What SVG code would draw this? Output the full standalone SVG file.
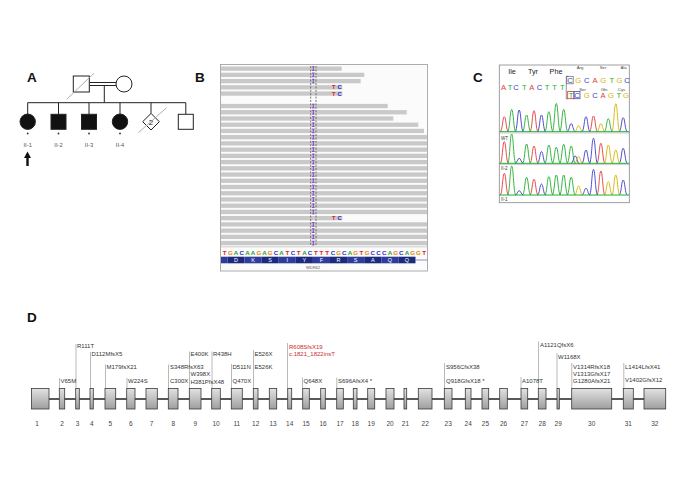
<svg xmlns="http://www.w3.org/2000/svg" xmlns:xlink="http://www.w3.org/1999/xlink" width="685" height="498" viewBox="0 0 685 498">
<defs>
<style>
text{font-family:"Liberation Sans",Arial,Helvetica,sans-serif}
.lbl{font-size:13.5px;font-weight:bold;fill:#111}
.ped{stroke:#222;stroke-width:1;fill:#fff}
.pedf{stroke:#222;stroke-width:1;fill:#111}
.pl{stroke:#222;stroke-width:1;fill:none}
.dl{stroke:#9a9a9a;stroke-width:0.8}
.pid{font-size:5.8px;fill:#555;text-anchor:middle}
.rd{fill:#c9c9c9}
.dash{stroke:#555;stroke-width:0.8;stroke-dasharray:2 1.4}
.sA{fill:#2e9e2e}.sC{fill:#2b2bd0}.sG{fill:#e58a00}.sT{fill:#e02222}
.seq{font-size:6.2px;font-weight:bold;text-anchor:middle}
.aa{font-size:5.5px;fill:#fff;text-anchor:middle}
.tc{font-size:5.8px;font-weight:bold}
.ca{fill:#e23b3b}.cg{fill:#1fae2c}.cb{fill:#3b3bc8}.cy{fill:#d6b300}
.cs{font-size:7.6px;text-anchor:middle}
.sm{font-size:4.3px;fill:#444;text-anchor:middle}
.aan{font-size:7.2px;fill:#222;text-anchor:middle}
.pk{fill:none;stroke-width:0.9}
.pr{stroke:#e23b3b}.pg{stroke:#1fae2c}.pb{stroke:#3b3bc8}.py{stroke:#d6b300}
.bl{stroke:#1fae2c;stroke-width:1}
.ex{fill:url(#eg);stroke:#3a3a3a;stroke-width:0.8}
.en{font-size:6.5px;fill:#444;text-anchor:middle}
.mut{font-size:6px;fill:#333}
.mr{fill:#cc2b2b}
.ml{stroke:#8a8a8a;stroke-width:0.6}
</style>
<linearGradient id="eg" x1="0" y1="0" x2="0" y2="1">
<stop offset="0" stop-color="#e2e2e2"/>
<stop offset="1" stop-color="#9e9e9e"/>
</linearGradient>
<path id="ins" d="M312.1 0.3H314.5M313.3 0.3V4M312.1 4H314.5" stroke="#7a3ccc" stroke-width="0.9" fill="none"/>
</defs>
<rect width="685" height="498" fill="#fff"/>

<!-- Panel labels -->
<text class="lbl" x="27" y="82">A</text>
<text class="lbl" x="195" y="82">B</text>
<text class="lbl" x="473" y="82">C</text>
<text class="lbl" x="27" y="322">D</text>

<!-- Panel A: pedigree -->
<g id="pedigree-lines">
<line class="pl" x1="89.3" y1="82.5" x2="116" y2="82.5"/>
<line class="pl" x1="89.3" y1="85.5" x2="116" y2="85.5"/>
<line class="pl" x1="104.3" y1="85.5" x2="104.3" y2="102.7"/>
<line class="pl" x1="27.7" y1="102.7" x2="185.8" y2="102.7"/>
<line class="pl" x1="27.7" y1="102.7" x2="27.7" y2="114"/>
<line class="pl" x1="58.5" y1="102.7" x2="58.5" y2="114.3"/>
<line class="pl" x1="89" y1="102.7" x2="89" y2="114.3"/>
<line class="pl" x1="120" y1="102.7" x2="120" y2="114"/>
<line class="pl" x1="151" y1="102.7" x2="151" y2="113.4"/>
<line class="pl" x1="185.8" y1="102.7" x2="185.8" y2="114.3"/>
</g>
<g id="I-1"><rect class="ped" x="73.3" y="76" width="16" height="16"/><line class="dl" x1="66.7" y1="99.3" x2="94" y2="73.3"/></g>
<g id="I-2"><circle class="ped" cx="124" cy="84" r="8"/></g>
<g id="II-1"><circle class="pedf" cx="27.7" cy="121.7" r="7.7"/><circle cx="27.7" cy="133.5" r="0.9" fill="#333"/><text class="pid" x="27.7" y="146.5">II-1</text>
<polygon points="27.5,151.5 31,158 28.7,158 28.7,166 26.3,166 26.3,158 24,158" fill="#111"/></g>
<g id="II-2"><rect class="pedf" x="51" y="114.3" width="15" height="15"/><circle cx="58.5" cy="133.5" r="0.9" fill="#333"/><text class="pid" x="58.5" y="146.5">II-2</text></g>
<g id="II-3"><rect class="pedf" x="81.5" y="114.3" width="15" height="15"/><circle cx="89" cy="133.5" r="0.9" fill="#333"/><text class="pid" x="89" y="146.5">II-3</text></g>
<g id="II-4"><circle class="pedf" cx="120" cy="121.7" r="7.7"/><circle cx="120" cy="133.5" r="0.9" fill="#333"/><text class="pid" x="120" y="146.5">II-4</text></g>
<g id="II-5"><polygon class="ped" points="151,113.4 159.3,121.7 151,130 142.7,121.7"/><text x="151" y="124.6" font-size="8" text-anchor="middle" fill="#222">2</text><line class="dl" x1="138.3" y1="132.7" x2="166.7" y2="107.7"/></g>
<g id="II-6"><rect class="ped" x="178.3" y="114.3" width="15" height="15"/></g>

<!-- Panel B: IGV -->
<g id="igv">
<rect x="220.5" y="64.5" width="207" height="206.5" fill="#fbfbfb" stroke="#9a9a9a" stroke-width="0.8"/>
<g id="reads">
<rect class="rd" x="221" y="66.5" width="120.7" height="4.3"/>
<rect class="rd" x="221" y="72.73" width="143.3" height="4.3"/>
<rect class="rd" x="221" y="78.96" width="139.7" height="4.3"/>
<rect class="rd" x="221" y="85.19" width="121.3" height="4.3"/>
<rect class="rd" x="221" y="91.42" width="121.3" height="4.3"/>
<rect class="rd" x="221" y="103.88" width="166.7" height="4.3"/>
<rect class="rd" x="221" y="110.11" width="185.7" height="4.3"/>
<rect class="rd" x="221" y="116.34" width="172.3" height="4.3"/>
<rect class="rd" x="221" y="122.57" width="197.3" height="4.3"/>
<rect class="rd" x="221" y="128.8" width="203" height="4.3"/>
<rect class="rd" x="221" y="135.03" width="206" height="4.3"/>
<rect class="rd" x="221" y="141.26" width="206" height="4.3"/>
<rect class="rd" x="221" y="147.49" width="206" height="4.3"/>
<rect class="rd" x="221" y="153.72" width="206" height="4.3"/>
<rect class="rd" x="221" y="159.95" width="206" height="4.3"/>
<rect class="rd" x="221" y="166.18" width="206" height="4.3"/>
<rect class="rd" x="221" y="172.41" width="206" height="4.3"/>
<rect class="rd" x="221" y="178.64" width="206" height="4.3"/>
<rect class="rd" x="221" y="184.87" width="206" height="4.3"/>
<rect class="rd" x="221" y="191.1" width="206" height="4.3"/>
<rect class="rd" x="221" y="197.33" width="206" height="4.3"/>
<rect class="rd" x="221" y="203.56" width="206" height="4.3"/>
<rect class="rd" x="221" y="209.79" width="206" height="4.3"/>
<rect class="rd" x="221" y="216.02" width="121.3" height="4.3"/>
<rect class="rd" x="221" y="222.25" width="206" height="4.3"/>
<rect class="rd" x="221" y="228.48" width="206" height="4.3"/>
<rect class="rd" x="221" y="234.71" width="206" height="4.3"/>
<rect class="rd" x="221" y="240.94" width="206" height="4.3"/>
</g>
<line class="dash" x1="310.7" y1="66" x2="310.7" y2="246"/>
<line class="dash" x1="316" y1="66" x2="316" y2="246"/>
<g id="insertions">
<use xlink:href="#ins" y="66.5"/><use xlink:href="#ins" y="72.73"/><use xlink:href="#ins" y="78.96"/>
<use xlink:href="#ins" y="103.88"/><use xlink:href="#ins" y="110.11"/><use xlink:href="#ins" y="116.34"/><use xlink:href="#ins" y="122.57"/><use xlink:href="#ins" y="128.8"/>
<use xlink:href="#ins" y="135.03"/><use xlink:href="#ins" y="141.26"/><use xlink:href="#ins" y="147.49"/><use xlink:href="#ins" y="153.72"/><use xlink:href="#ins" y="159.95"/>
<use xlink:href="#ins" y="166.18"/><use xlink:href="#ins" y="172.41"/><use xlink:href="#ins" y="178.64"/><use xlink:href="#ins" y="184.87"/><use xlink:href="#ins" y="191.1"/>
<use xlink:href="#ins" y="197.33"/><use xlink:href="#ins" y="203.56"/><use xlink:href="#ins" y="209.79"/>
<use xlink:href="#ins" y="222.25"/><use xlink:href="#ins" y="228.48"/><use xlink:href="#ins" y="234.71"/><use xlink:href="#ins" y="240.94"/>
</g>
<text class="tc" y="89.4"><tspan x="332" class="sT">T</tspan><tspan x="337.4" class="sC">C</tspan></text>
<text class="tc" y="95.6"><tspan x="332" class="sT">T</tspan><tspan x="337.4" class="sC">C</tspan></text>
<text class="tc" y="220.2"><tspan x="332" class="sT">T</tspan><tspan x="337.4" class="sC">C</tspan></text>
<line x1="220.5" y1="246.8" x2="427.5" y2="246.8" stroke="#aaa" stroke-width="0.6"/>
<text class="seq" y="254.6"><tspan x="224.6" class="sT">T</tspan><tspan x="230.3" class="sG">G</tspan><tspan x="236" class="sA">A</tspan><tspan x="241.7" class="sC">C</tspan><tspan x="247.4" class="sA">A</tspan><tspan x="253.1" class="sA">A</tspan><tspan x="258.8" class="sG">G</tspan><tspan x="264.5" class="sA">A</tspan><tspan x="270.2" class="sG">G</tspan><tspan x="275.9" class="sC">C</tspan><tspan x="281.6" class="sA">A</tspan><tspan x="287.3" class="sT">T</tspan><tspan x="293" class="sC">C</tspan><tspan x="298.7" class="sT">T</tspan><tspan x="304.4" class="sA">A</tspan><tspan x="310.1" class="sC">C</tspan><tspan x="315.8" class="sT">T</tspan><tspan x="321.5" class="sT">T</tspan><tspan x="327.2" class="sT">T</tspan><tspan x="332.9" class="sC">C</tspan><tspan x="338.6" class="sG">G</tspan><tspan x="344.3" class="sC">C</tspan><tspan x="350" class="sA">A</tspan><tspan x="355.7" class="sG">G</tspan><tspan x="361.4" class="sT">T</tspan><tspan x="367.1" class="sG">G</tspan><tspan x="372.8" class="sC">C</tspan><tspan x="378.5" class="sC">C</tspan><tspan x="384.2" class="sC">C</tspan><tspan x="389.9" class="sA">A</tspan><tspan x="395.6" class="sG">G</tspan><tspan x="401.3" class="sC">C</tspan><tspan x="407" class="sA">A</tspan><tspan x="412.7" class="sG">G</tspan><tspan x="418.4" class="sG">G</tspan><tspan x="424.1" class="sT">T</tspan></text>
<g id="aa-bar">
<rect x="221" y="256.7" width="6.4" height="6.6" fill="#2e3d9c"/>
<rect x="227.4" y="256.7" width="17.1" height="6.6" fill="#1c2a7e"/>
<rect x="244.5" y="256.7" width="17.1" height="6.6" fill="#2e3d9c"/>
<rect x="261.6" y="256.7" width="17.1" height="6.6" fill="#1c2a7e"/>
<rect x="278.7" y="256.7" width="17.1" height="6.6" fill="#2e3d9c"/>
<rect x="295.8" y="256.7" width="17.1" height="6.6" fill="#1c2a7e"/>
<rect x="312.9" y="256.7" width="17.1" height="6.6" fill="#2e3d9c"/>
<rect x="330" y="256.7" width="17.1" height="6.6" fill="#1c2a7e"/>
<rect x="347.1" y="256.7" width="17.1" height="6.6" fill="#2e3d9c"/>
<rect x="364.2" y="256.7" width="17.1" height="6.6" fill="#1c2a7e"/>
<rect x="381.3" y="256.7" width="17.1" height="6.6" fill="#2e3d9c"/>
<rect x="398.4" y="256.7" width="17.1" height="6.6" fill="#1c2a7e"/>
<line x1="415.5" y1="260" x2="427.5" y2="260" stroke="#5a66b8" stroke-width="0.7"/>
<text class="aa" y="262"><tspan x="236">D</tspan><tspan x="253.1">K</tspan><tspan x="270.2">S</tspan><tspan x="287.3">I</tspan><tspan x="304.4">Y</tspan><tspan x="321.5">F</tspan><tspan x="338.6">R</tspan><tspan x="355.7">S</tspan><tspan x="372.8">A</tspan><tspan x="389.9">Q</tspan><tspan x="407">Q</tspan></text>
</g>
<text x="313" y="268.6" font-size="4" fill="#555" text-anchor="middle">WDR62</text>
</g>

<!-- Panel C: chromatogram -->
<g id="chromatogram">
<rect x="499.3" y="65" width="130" height="137.7" fill="#fff" stroke="#888" stroke-width="0.8"/>
<text class="aan" x="512" y="74">Ile</text>
<text class="aan" x="533" y="74">Tyr</text>
<text class="aan" x="556" y="74">Phe</text>
<text class="cs" y="90"><tspan x="503.6" class="ca">A</tspan><tspan x="510" class="cg">T</tspan><tspan x="516" class="cb">C</tspan><tspan x="524.2" class="cg">T</tspan><tspan x="531.8" class="ca">A</tspan><tspan x="539.4" class="cb">C</tspan><tspan x="547" class="cg">T</tspan><tspan x="554.6" class="cg">T</tspan><tspan x="562.2" class="cg">T</tspan></text>
<text class="sm" y="69.2"><tspan x="580">Arg</tspan><tspan x="603">Ser</tspan><tspan x="623.5">Ala</tspan></text>
<text class="sm" y="90.5"><tspan x="582.5">Ser</tspan><tspan x="604">Gln</tspan><tspan x="621.5">Cys</tspan></text>
<path d="M568.5 76.3H566.3V98.8H568" fill="none" stroke="#666" stroke-width="0.7"/>
<rect x="566.8" y="76.3" width="6.4" height="7.5" fill="none" stroke="#666" stroke-width="0.7"/>
<rect x="567.7" y="91.5" width="6.3" height="7.2" fill="none" stroke="#d33" stroke-width="0.8"/>
<rect x="574" y="91.5" width="6" height="7.2" fill="none" stroke="#4455aa" stroke-width="0.8"/>
<text class="cs" y="83"><tspan x="570" class="cb">C</tspan><tspan x="578.3" class="cy">G</tspan><tspan x="586.7" class="cb">C</tspan><tspan x="595" class="ca">A</tspan><tspan x="603.3" class="cy">G</tspan><tspan x="611.7" class="cg">T</tspan><tspan x="619.5" class="cy">G</tspan><tspan x="627" class="cb">C</tspan></text>
<text class="cs" y="97.7"><tspan x="571" class="cg">T</tspan><tspan x="577" class="cb">C</tspan><tspan x="586.7" class="cy">G</tspan><tspan x="595" class="cb">C</tspan><tspan x="603" class="ca">A</tspan><tspan x="611" class="cy">G</tspan><tspan x="618.7" class="cg">T</tspan><tspan x="626" class="cy">G</tspan></text>
<!-- trace 1 -->
<path class="pk pr" d="M500.1 131.7C502.5 131.7 502.5 116.7 504.3 116.7S506.1 131.7 508.5 131.7M529.8 131.7C532.2 131.7 532.2 110.7 534 110.7S535.8 131.7 538.2 131.7M589.3 131.7C591.7 131.7 591.7 116 593.5 116S595.3 131.7 597.7 131.7"/>
<path class="pk pg" d="M507.5 131.7C509.9 131.7 509.9 109.4 511.7 109.4S513.5 131.7 515.9 131.7M522.4 131.7C524.8 131.7 524.8 115 526.6 115S528.4 131.7 530.8 131.7M544.7 131.7C547.1 131.7 547.1 111.7 548.9 111.7S550.7 131.7 553.1 131.7M552.1 131.7C554.5 131.7 554.5 103.4 556.3 103.4S558.1 131.7 560.5 131.7M559.5 131.7C561.9 131.7 561.9 109.4 563.7 109.4S565.5 131.7 567.9 131.7M604.1 131.7C606.5 131.7 606.5 118.7 608.3 118.7S610.1 131.7 612.5 131.7"/>
<path class="pk pb" d="M515 131.7C517.4 131.7 517.4 110 519.2 110S521 131.7 523.4 131.7M537.3 131.7C539.7 131.7 539.7 115 541.5 115S543.3 131.7 545.7 131.7M567 131.7C569.4 131.7 569.4 123.7 571.2 123.7S573 131.7 575.4 131.7M581.8 131.7C584.2 131.7 584.2 116.7 586 116.7S587.8 131.7 590.2 131.7M619 131.7C621.4 131.7 621.4 117.7 623.2 117.7S625 131.7 627.4 131.7"/>
<path class="pk py" d="M574.4 131.7C576.8 131.7 576.8 125.7 578.6 125.7S580.4 131.7 582.8 131.7M596.7 131.7C599.1 131.7 599.1 123.7 600.9 123.7S602.7 131.7 605.1 131.7M611.6 131.7C614 131.7 614 103.7 615.8 103.7S617.6 131.7 620 131.7"/>
<!-- trace 2 -->
<path class="pk pr" d="M500.1 163.3C502.5 163.3 502.5 141.6 504.3 141.6S506.1 163.3 508.5 163.3M529.8 163.3C532.2 163.3 532.2 146 534 146S535.8 163.3 538.2 163.3M596.7 163.3C599.1 163.3 599.1 143.3 600.9 143.3S602.7 163.3 605.1 163.3"/>
<path class="pk pg" d="M507.5 163.3C509.9 163.3 509.9 134 511.7 134S513.5 163.3 515.9 163.3M522.4 163.3C524.8 163.3 524.8 144 526.6 144S528.4 163.3 530.8 163.3M544.7 163.3C547.1 163.3 547.1 145 548.9 145S550.7 163.3 553.1 163.3M552.1 163.3C554.5 163.3 554.5 147.3 556.3 147.3S558.1 163.3 560.5 163.3M559.5 163.3C561.9 163.3 561.9 144.3 563.7 144.3S565.5 163.3 567.9 163.3M567 163.3C569.4 163.3 569.4 146 571.2 146S573 163.3 575.4 163.3"/>
<path class="pk pb" d="M515 163.3C517.4 163.3 517.4 158.3 519.2 158.3S521 163.3 523.4 163.3M537.3 163.3C539.7 163.3 539.7 151.6 541.5 151.6S543.3 163.3 545.7 163.3M571 163.3C573.4 163.3 573.4 156 575.2 156S577 163.3 579.4 163.3M581.8 163.3C584.2 163.3 584.2 150 586 150S587.8 163.3 590.2 163.3M589.3 163.3C591.7 163.3 591.7 138.3 593.5 138.3S595.3 163.3 597.7 163.3M619 163.3C621.4 163.3 621.4 148.3 623.2 148.3S625 163.3 627.4 163.3"/>
<path class="pk py" d="M574.4 163.3C576.8 163.3 576.8 156.6 578.6 156.6S580.4 163.3 582.8 163.3M604.1 163.3C606.5 163.3 606.5 145 608.3 145S610.1 163.3 612.5 163.3M611.6 163.3C614 163.3 614 150 615.8 150S617.6 163.3 620 163.3"/>
<!-- trace 3 -->
<path class="pk pr" d="M500.1 195C502.5 195 502.5 173.3 504.3 173.3S506.1 195 508.5 195M529.8 195C532.2 195 532.2 179.3 534 179.3S535.8 195 538.2 195M596.7 195C599.1 195 599.1 171 600.9 171S602.7 195 605.1 195"/>
<path class="pk pg" d="M507.5 195C509.9 195 509.9 166 511.7 166S513.5 195 515.9 195M522.4 195C524.8 195 524.8 177.3 526.6 177.3S528.4 195 530.8 195M544.7 195C547.1 195 547.1 176.7 548.9 176.7S550.7 195 553.1 195M552.1 195C554.5 195 554.5 175 556.3 175S558.1 195 560.5 195M559.5 195C561.9 195 561.9 175 563.7 175S565.5 195 567.9 195M567 195C569.4 195 569.4 177.3 571.2 177.3S573 195 575.4 195"/>
<path class="pk pb" d="M515 195C517.4 195 517.4 190.7 519.2 190.7S521 195 523.4 195M537.3 195C539.7 195 539.7 184 541.5 184S543.3 195 545.7 195M581.8 195C584.2 195 584.2 188.3 586 188.3S587.8 195 590.2 195M589.3 195C591.7 195 591.7 169.3 593.5 169.3S595.3 195 597.7 195M619 195C621.4 195 621.4 180 623.2 180S625 195 627.4 195"/>
<path class="pk py" d="M574.4 195C576.8 195 576.8 186 578.6 186S580.4 195 582.8 195M604.1 195C606.5 195 606.5 181.7 608.3 181.7S610.1 195 612.5 195M611.6 195C614 195 614 175 615.8 175S617.6 195 620 195"/>
<line class="bl" x1="499.3" y1="131.7" x2="629.3" y2="131.7"/>
<line class="bl" x1="499.3" y1="163.3" x2="629.3" y2="163.3"/>
<line class="bl" x1="499.3" y1="195" x2="629.3" y2="195"/>
<line x1="499.3" y1="133" x2="629.3" y2="133" stroke="#999" stroke-width="0.5"/>
<line x1="499.3" y1="164.6" x2="629.3" y2="164.6" stroke="#999" stroke-width="0.5"/>
<text x="501" y="139.5" font-size="4.5" fill="#333">WT</text>
<text x="501" y="170.3" font-size="4.5" fill="#333">II-2</text>
<text x="501" y="200.8" font-size="4.5" fill="#333">II-1</text>
</g>

<!-- Panel D: gene structure -->
<g id="connectors">
<line x1="40" y1="399" x2="655" y2="399" stroke="#222" stroke-width="1.3"/>
<line class="ml" x1="59.5" y1="378" x2="59.5" y2="388.5"/>
<line class="ml" x1="76" y1="344" x2="76" y2="388.5"/>
<line class="ml" x1="90.5" y1="352" x2="90.5" y2="388.5"/>
<line class="ml" x1="105.5" y1="364.5" x2="105.5" y2="388.5"/>
<line class="ml" x1="127" y1="378" x2="127" y2="388.5"/>
<line class="ml" x1="168.5" y1="364.5" x2="168.5" y2="388.5"/>
<line class="ml" x1="189.5" y1="351.5" x2="189.5" y2="388.5"/>
<line class="ml" x1="212" y1="351.5" x2="212" y2="388.5"/>
<line class="ml" x1="231.5" y1="364" x2="231.5" y2="388.5"/>
<line class="ml" x1="253.5" y1="350" x2="253.5" y2="388.5"/>
<line class="ml" x1="287.5" y1="343" x2="287.5" y2="388.5"/>
<line class="ml" x1="302.5" y1="377.5" x2="302.5" y2="388.5"/>
<line class="ml" x1="336.8" y1="377.5" x2="336.8" y2="388.5"/>
<line class="ml" x1="444.5" y1="363" x2="444.5" y2="388.5"/>
<line class="ml" x1="521" y1="377" x2="521" y2="388.5"/>
<line class="ml" x1="538.5" y1="341.5" x2="538.5" y2="388.5"/>
<line class="ml" x1="557" y1="353" x2="557" y2="388.5"/>
<line class="ml" x1="571.8" y1="363" x2="571.8" y2="388.5"/>
<line class="ml" x1="623.8" y1="363" x2="623.8" y2="388.5"/>
</g>
<g id="exons">
<g id="exon1"><rect class="ex" x="31.5" y="388.5" width="17.5" height="20.5"/><text class="en" x="37" y="425.5">1</text></g>
<g id="exon2"><rect class="ex" x="59.3" y="388.5" width="5.4" height="20.5"/><text class="en" x="62" y="425.5">2</text></g>
<g id="exon3"><rect class="ex" x="75.7" y="388.5" width="3.6" height="20.5"/><text class="en" x="77.5" y="425.5">3</text></g>
<g id="exon4"><rect class="ex" x="90" y="388.5" width="3.3" height="20.5"/><text class="en" x="91.7" y="425.5">4</text></g>
<g id="exon5"><rect class="ex" x="105" y="388.5" width="10.7" height="20.5"/><text class="en" x="110.3" y="425.5">5</text></g>
<g id="exon6"><rect class="ex" x="126.7" y="388.5" width="8.3" height="20.5"/><text class="en" x="130.8" y="425.5">6</text></g>
<g id="exon7"><rect class="ex" x="146" y="388.5" width="11.3" height="20.5"/><text class="en" x="151.6" y="425.5">7</text></g>
<g id="exon8"><rect class="ex" x="168.3" y="388.5" width="9.7" height="20.5"/><text class="en" x="173.2" y="425.5">8</text></g>
<g id="exon9"><rect class="ex" x="189.3" y="388.5" width="11.7" height="20.5"/><text class="en" x="195.2" y="425.5">9</text></g>
<g id="exon10"><rect class="ex" x="211.7" y="388.5" width="8.6" height="20.5"/><text class="en" x="216" y="425.5">10</text></g>
<g id="exon11"><rect class="ex" x="231.3" y="388.5" width="11" height="20.5"/><text class="en" x="236.8" y="425.5">11</text></g>
<g id="exon12"><rect class="ex" x="253.3" y="388.5" width="4.7" height="20.5"/><text class="en" x="255.7" y="425.5">12</text></g>
<g id="exon13"><rect class="ex" x="269.3" y="388.5" width="7.4" height="20.5"/><text class="en" x="273" y="425.5">13</text></g>
<g id="exon14"><rect class="ex" x="287.7" y="388.5" width="4" height="20.5"/><text class="en" x="289.7" y="425.5">14</text></g>
<g id="exon15"><rect class="ex" x="302.7" y="388.5" width="6.6" height="20.5"/><text class="en" x="306" y="425.5">15</text></g>
<g id="exon16"><rect class="ex" x="320.7" y="388.5" width="4.6" height="20.5"/><text class="en" x="323" y="425.5">16</text></g>
<g id="exon17"><rect class="ex" x="336.7" y="388.5" width="6.6" height="20.5"/><text class="en" x="340" y="425.5">17</text></g>
<g id="exon18"><rect class="ex" x="353.3" y="388.5" width="3.7" height="20.5"/><text class="en" x="355.2" y="425.5">18</text></g>
<g id="exon19"><rect class="ex" x="367.7" y="388.5" width="7" height="20.5"/><text class="en" x="371.2" y="425.5">19</text></g>
<g id="exon20"><rect class="ex" x="386" y="388.5" width="8" height="20.5"/><text class="en" x="390" y="425.5">20</text></g>
<g id="exon21"><rect class="ex" x="404" y="388.5" width="2.7" height="20.5"/><text class="en" x="405.4" y="425.5">21</text></g>
<g id="exon22"><rect class="ex" x="418.3" y="388.5" width="13.7" height="20.5"/><text class="en" x="425.2" y="425.5">22</text></g>
<g id="exon23"><rect class="ex" x="444.3" y="388.5" width="7.7" height="20.5"/><text class="en" x="448.2" y="425.5">23</text></g>
<g id="exon24"><rect class="ex" x="465.3" y="388.5" width="5.7" height="20.5"/><text class="en" x="468.2" y="425.5">24</text></g>
<g id="exon25"><rect class="ex" x="482" y="388.5" width="6.7" height="20.5"/><text class="en" x="485.4" y="425.5">25</text></g>
<g id="exon26"><rect class="ex" x="499.7" y="388.5" width="7.6" height="20.5"/><text class="en" x="503.5" y="425.5">26</text></g>
<g id="exon27"><rect class="ex" x="521" y="388.5" width="6.7" height="20.5"/><text class="en" x="524.4" y="425.5">27</text></g>
<g id="exon28"><rect class="ex" x="538.3" y="388.5" width="7.7" height="20.5"/><text class="en" x="542.2" y="425.5">28</text></g>
<g id="exon29"><rect class="ex" x="557" y="388.5" width="2.3" height="20.5"/><text class="en" x="558.2" y="425.5">29</text></g>
<g id="exon30"><rect class="ex" x="571.7" y="388.5" width="40" height="20.5"/><text class="en" x="591.7" y="425.5">30</text></g>
<g id="exon31"><rect class="ex" x="623.3" y="388.5" width="10" height="20.5"/><text class="en" x="628.3" y="425.5">31</text></g>
<g id="exon32"><rect class="ex" x="644" y="388.5" width="21.7" height="20.5"/><text class="en" x="654.8" y="425.5">32</text></g>
</g>
<g id="mutations">
<text class="mut" x="60.5" y="382.5">V65M</text>
<text class="mut" x="77" y="347.5">R111T</text>
<text class="mut" x="91.5" y="355.5">D112MfsX5</text>
<text class="mut" x="106.5" y="369">M179fsX21</text>
<text class="mut" x="128" y="382.5">W224S</text>
<text class="mut" x="170" y="369">S348RfsX63</text>
<text class="mut" x="170" y="382.5">C300X</text>
<text class="mut" x="190.5" y="355.5">E400K</text>
<text class="mut" x="190.5" y="375.5">W398X</text>
<text class="mut" x="190.5" y="384">H381PfsX48</text>
<text class="mut" x="213" y="355.5">R438H</text>
<text class="mut" x="232.5" y="369">D511N</text>
<text class="mut" x="232.5" y="382.5">Q470X</text>
<text class="mut" x="254.5" y="355.5">E526X</text>
<text class="mut" x="254.5" y="369">E526K</text>
<text class="mut mr" x="289" y="348.5">R608SfsX19</text>
<text class="mut mr" x="289" y="356">c.1821_1822insT</text>
<text class="mut" x="303.5" y="382.5">Q648X</text>
<text class="mut" x="338" y="382.5">S696AfsX4 *</text>
<text class="mut" x="446" y="369">S956CfsX38</text>
<text class="mut" x="446" y="382.5">Q918GfsX18 *</text>
<text class="mut" x="522" y="382.5">A1078T</text>
<text class="mut" x="540" y="346.5">A1121QfsX6</text>
<text class="mut" x="558" y="358.5">W1168X</text>
<text class="mut" x="573" y="369">V1314RfsX18</text>
<text class="mut" x="573" y="375.7">V1313GfsX17</text>
<text class="mut" x="573" y="382.5">G1280AfsX21</text>
<text class="mut" x="625" y="369">L1414LfsX41</text>
<text class="mut" x="625" y="381.7">V1402GfsX12</text>
</g>
</svg>
